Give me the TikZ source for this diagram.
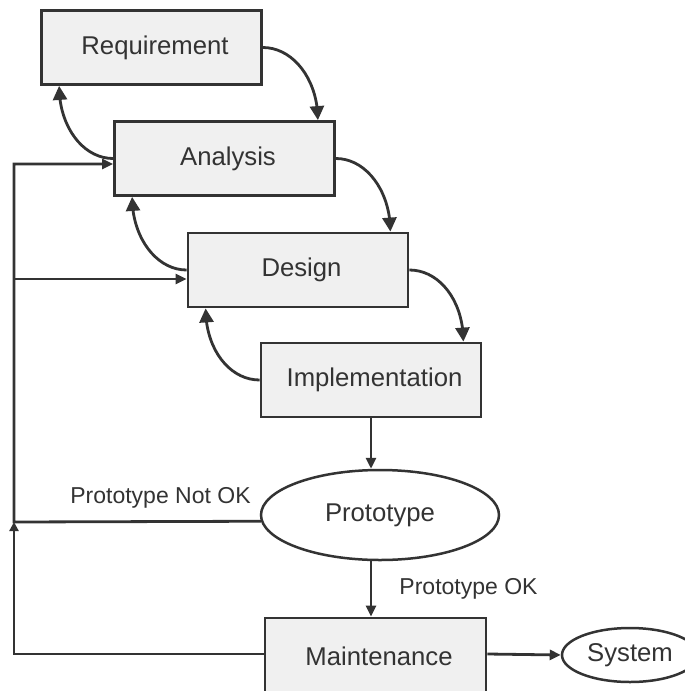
\documentclass[tikz,border=0pt]{standalone}
\usepackage{fontspec}
\setmainfont{Liberation Sans}
\usetikzlibrary{arrows.meta,bending,calc,shapes.geometric}
\definecolor{ink}{HTML}{333333}
\definecolor{boxfill}{HTML}{F0F0F0}
\begin{document}
\begin{tikzpicture}[x=1pt,y=-1pt,
  stage/.style={draw=ink,fill=boxfill,line width=2.8pt,minimum width=220pt,minimum height=74pt,inner sep=0pt,text=ink,font=\fontsize{25.7}{30}\selectfont,execute at begin node=\hspace*{7pt}},
  oval/.style={ellipse,draw=ink,fill=white,line width=2.5pt,inner sep=0pt,text=ink,font=\fontsize{25.7}{30}\selectfont},
  loopback/.style={draw=ink,line width=2.8pt,-{Triangle[length=14pt,width=14pt]}},
  flow/.style={draw=ink,line width=2.8pt,-{Triangle[length=11pt,width=10pt]}},
  lbl/.style={text=ink,font=\fontsize{23}{28}\selectfont,anchor=base,inner sep=0pt}]
\useasboundingbox (0,0) rectangle (685,691);
\clip (0,0) rectangle (685,691);
\fill[white] (0,0) rectangle (685,691);

\node[stage] (Req) at (151.5,47.5) {Requirement};
\node[stage] (Ana) at (224.5,158.5) {Analysis};
\node[stage] (Des) at (298,270) {Design};
\node[stage] (Imp) at (371,380) {Implementation};
\node[oval,minimum width=238pt,minimum height=90pt] (Pro) at (380,515) {Prototype};
\node[stage,minimum width=221pt,minimum height=76pt] (Mai) at (375.5,656) {Maintenance};
\node[oval,minimum width=136pt,minimum height=54pt] (Sys) at (630,655) {System};

\node[lbl] (lNot) at (160.5,503) {Prototype Not OK};
\node[lbl] (lOK) at (468.5,594) {Prototype OK};

\coordinate (jP) at (14,522);
\coordinate (jD) at (14,279);
\coordinate (jA) at (14,164);

% forward curves
\draw[loopback] (Req.east) .. controls ($(Req.east)+(30,0)$) and ($(Ana.north east)+(-18,-41)$) .. ($(Ana.north east)+(-18,0)$);
\draw[loopback] (Ana.east) .. controls ($(Ana.east)+(30,0)$) and ($(Des.north east)+(-19,-41)$) .. ($(Des.north east)+(-19,0)$);
\draw[loopback] (Des.east) .. controls ($(Des.east)+(30,0)$) and ($(Imp.north east)+(-19,-41)$) .. ($(Imp.north east)+(-19,0)$);
% backward curves
\draw[loopback] (Ana.west) .. controls ($(Ana.west)+(-30,0)$) and ($(Req.south west)+(19,41)$) .. ($(Req.south west)+(19,0)$);
\draw[loopback] (Des.west) .. controls ($(Des.west)+(-30,0)$) and ($(Ana.south west)+(19,41)$) .. ($(Ana.south west)+(19,0)$);
\draw[loopback] (Imp.west) .. controls ($(Imp.west)+(-30,0)$) and ($(Des.south west)+(19,41)$) .. ($(Des.south west)+(19,0)$);

% feedback lines
\draw[flow] (Pro.183.4) -- (jP) -- (jA) -- (Ana.west |- jA);
\draw[flow] (jD) -- (Des.west |- jD);
\draw[flow,-{Triangle[length=9pt,width=9pt]}] ($(Mai.west)+(0,-2)$) -| (jP);

% main flow
\draw[flow] (Imp.south) -- (Imp.south |- Pro.north);
\draw[flow] (Imp.south |- Pro.south) -- (Imp.south |- Mai.north);
\draw[flow] ($(Mai.east)+(0,-2)$) -- (Sys.west);
\end{tikzpicture}
\end{document}
